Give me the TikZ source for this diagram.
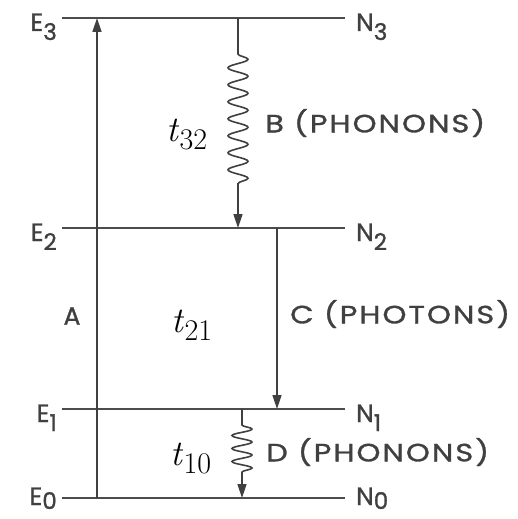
\documentclass[tikz,border=0pt]{standalone}
\usepackage{fontspec}
\newfontfamily\lab[FakeStretch=1.22,LetterSpace=8,FakeBold=1.2]{Poppins}
\newfontfamily\labn[FakeBold=1.2]{Poppins}
\usetikzlibrary{arrows.meta,decorations.pathmorphing}
\begin{document}
\begin{tikzpicture}[x=1pt,y=-1pt,
  level/.style={line width=1.8pt,draw=black!70},
  trans/.style={line width=1.6pt,draw=black!75,-{Triangle[length=14pt,width=9pt]}},
  lvl/.style={font=\labn\fontsize{25}{25}\selectfont,text=black!75,inner sep=0pt},
  proc/.style={font=\lab\fontsize{25}{25}\selectfont,text=black!75,inner sep=0pt,anchor=west},
  tlab/.style={font=\fontsize{36}{36}\selectfont,inner sep=0pt}]
\useasboundingbox (0,0) rectangle (518,519);
% level endpoints
\coordinate (E3L) at (62,18);  \coordinate (E3R) at (345,18);
\coordinate (E2L) at (62,228); \coordinate (E2R) at (345,228);
\coordinate (E1L) at (62,409); \coordinate (E1R) at (345,409);
\coordinate (E0L) at (62,498); \coordinate (E0R) at (345,498);
\foreach \i in {3,2,1,0}{\draw[level] (E\i L) -- (E\i R);}
% level labels
\node[lvl,anchor=base east] (e3) at (57,31) {E\raisebox{-9pt}{\fontsize{23}{23}\selectfont 3}};
\node[lvl,anchor=base east] (e2) at (57,241) {E\raisebox{-9pt}{\fontsize{23}{23}\selectfont 2}};
\node[lvl,anchor=base east] (e1) at (57,422) {E\raisebox{-9pt}{\fontsize{23}{23}\selectfont 1}};
\node[lvl,anchor=base east] (e0) at (57,505) {E\raisebox{-4pt}{\fontsize{23}{23}\selectfont 0}};
\node[lvl,anchor=base west] (n3) at (356,31) {N\raisebox{-9pt}{\fontsize{23}{23}\selectfont 3}};
\node[lvl,anchor=base west] (n2) at (356,241) {N\raisebox{-9pt}{\fontsize{23}{23}\selectfont 2}};
\node[lvl,anchor=base west] (n1) at (356,422) {N\raisebox{-9pt}{\fontsize{23}{23}\selectfont 1}};
\node[lvl,anchor=base west] (n0) at (356,505) {N\raisebox{-4pt}{\fontsize{23}{23}\selectfont 0}};
% transition endpoints
\coordinate (a0) at (97,498); \coordinate (a3) at (97,18);
\coordinate (b3) at (238,18); \coordinate (b2) at (238,228);
\coordinate (c2) at (277,228); \coordinate (c1) at (277,409);
\coordinate (d1) at (242,409); \coordinate (d0) at (242,498);
\draw[trans] (a0) -- (a3);
\draw[trans,decorate,decoration={snake,amplitude=10pt,segment length=17pt,pre length=36pt,post length=38pt}] (b3) -- (b2);
\draw[trans] (c2) -- (c1);
\draw[trans,decorate,decoration={snake,amplitude=10pt,segment length=13pt,pre length=16pt,post length=20pt}] (d1) -- (d0);
% labels
\node[proc] (B) at (265,123) {B (PHONONS)};
\node[proc] (C) at (290,314) {C (PHOTONS)};
\node[proc] (D) at (266,452) {D (PHONONS)};
\node[lvl] (A) at (72,316) {A};
\node[tlab] (t32) at (187,134) {\itshape t\kern1pt\upshape\raisebox{-8pt}{\fontsize{30}{30}\selectfont 32}};
\node[tlab] (t21) at (192,325) {\itshape t\kern1pt\upshape\raisebox{-8pt}{\fontsize{30}{30}\selectfont 21}};
\node[tlab] (t10) at (191,458) {\itshape t\kern1pt\upshape\raisebox{-8pt}{\fontsize{30}{30}\selectfont 10}};
\end{tikzpicture}
\end{document}
